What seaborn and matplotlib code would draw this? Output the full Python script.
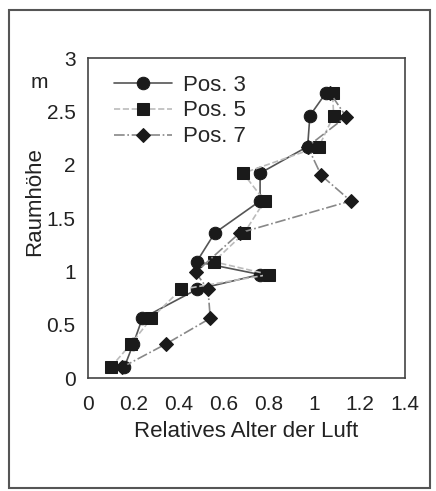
import matplotlib
matplotlib.use("Agg")
import matplotlib.pyplot as plt
import seaborn as sns
import pandas as pd
from matplotlib.patches import Rectangle

sns.set_theme(style="white")
plt.rcParams['font.family'] = ['Liberation Sans', 'DejaVu Sans']

# data
pos3_x = [0.16, 0.20, 0.24, 0.48, 0.76, 0.48, 0.56, 0.76, 0.76, 0.97, 0.98, 1.05]
pos3_y = [0.10, 0.32, 0.56, 0.83, 0.97, 1.09, 1.36, 1.66, 1.92, 2.17, 2.46, 2.67]
pos5_x = [0.10, 0.19, 0.28, 0.41, 0.80, 0.555, 0.69, 0.78, 0.685, 1.02, 1.085, 1.08]
pos5_y = [0.10, 0.32, 0.56, 0.83, 0.97, 1.09, 1.36, 1.66, 1.92, 2.17, 2.46, 2.67]
pos7_x = [0.15, 0.345, 0.54, 0.53, 0.475, 0.67, 1.16, 1.03, 0.97, 1.14, 1.07]
pos7_y = [0.10, 0.32, 0.56, 0.83, 0.99, 1.36, 1.66, 1.90, 2.17, 2.45, 2.67]
series_names = ["Pos. 3", "Pos. 5", "Pos. 7"]
x_ticks = [0, 0.2, 0.4, 0.6, 0.8, 1, 1.2, 1.4]
x_ticklabels = ["0", "0.2", "0.4", "0.6", "0.8", "1", "1.2", "1.4"]
y_ticks = [0, 0.5, 1, 1.5, 2, 2.5, 3]
y_ticklabels = ["0", "0.5", "1", "1.5", "2", "2.5", "3"]

fig = plt.figure(figsize=(4.36, 4.91), dpi=100)
ax = fig.add_axes([88/436, 1-378/491, (405-88)/436, (378-58)/491])

styles = [
    dict(marker="o", color="#555555", linestyle="-", mfc="#1a1a1a", mec="#1a1a1a"),
    dict(marker="s", color="#bbbbbb", linestyle="--", mfc="#1a1a1a", mec="#1a1a1a"),
    dict(marker="D", color="#888888", linestyle="-.", mfc="#1a1a1a", mec="#1a1a1a"),
]
data = [(pos3_x, pos3_y), (pos5_x, pos5_y), (pos7_x, pos7_y)]
for (xs, ys), name, st in zip(data, series_names, styles):
    df = pd.DataFrame({"x": xs, "y": ys})
    ms = 9 if st["marker"] != "D" else 7
    sns.lineplot(data=df, x="x", y="y", sort=False, estimator=None, ax=ax,
                 marker=st["marker"], color=st["color"], linestyle=st["linestyle"],
                 markerfacecolor=st["mfc"], markeredgecolor=st["mec"],
                 markersize=ms, linewidth=1.2, label=name)

ax.set_xlim(0, 1.4)
ax.set_ylim(0, 3)
ax.set_xticks(x_ticks)
ax.set_xticklabels(x_ticklabels)
ax.set_yticks(y_ticks)
ax.set_yticklabels(y_ticklabels)
ax.tick_params(labelsize=15, colors="#222222", length=0)
ax.tick_params(axis="x", pad=12)
ax.tick_params(axis="y", pad=9)
ax.set_xlabel("Relatives Alter der Luft", fontsize=16, color="#222222", labelpad=5)
ax.set_ylabel("Raumhöhe", fontsize=16, color="#222222")
ax.yaxis.set_label_coords(-0.135, 0.55)
for s in ax.spines.values():
    s.set_color("#444444")
    s.set_linewidth(1.2)
ax.text(-0.125, 0.925, "m", transform=ax.transAxes, fontsize=15, color="#222222",
        ha="right", va="center")
leg = ax.legend(loc="upper left", frameon=False, fontsize=16, handlelength=2.6,
                labelspacing=0.22, borderaxespad=0.2, handletextpad=0.5,
                bbox_to_anchor=(0.04, 0.99))

fig.patches.append(Rectangle((9/436, 1-488/491), (430-9)/436, (488-10)/491,
                             transform=fig.transFigure, fill=False,
                             edgecolor="#555555", linewidth=1.5))
fig.savefig("out.png", dpi=100)
